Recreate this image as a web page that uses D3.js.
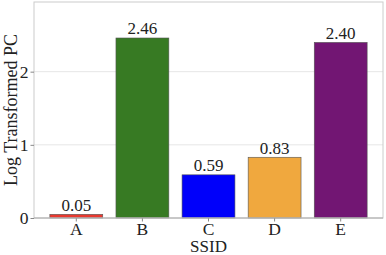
<!DOCTYPE html>
<html><head><meta charset="utf-8">
<script src="https://cdn.jsdelivr.net/npm/d3@7"></script>
<style>body{margin:0;background:#fff}svg{display:block}text{font-family:'Liberation Serif','Times New Roman',serif}</style>
</head><body>
<script>
const categories = ["A","B","C","D","E"];
const values = [0.05, 2.46, 0.59, 0.83, 2.40];
const labels = ["0.05","2.46","0.59","0.83","2.40"];
const colors = ["#e8392f","#377a23","#0000fa","#f0a83e","#721673"];
const yTicks = [0,1,2];

const W=386,H=255;
const m={l:34,r:3,t:2,b:37};
const svg=d3.select("body").append("svg").attr("width",W).attr("height",H);
const x=d3.scaleBand().domain(categories).range([m.l,W-m.r]).paddingInner(0.2).paddingOuter(0.24);
const y=d3.scaleLinear().domain([0,2.46*1.2]).range([H-m.b,m.t]);
const font="'Liberation Serif','Times New Roman',serif";

// grid
svg.append("g").selectAll("line").data(yTicks.filter(d=>d>0)).join("line")
 .attr("x1",m.l).attr("x2",W-m.r).attr("y1",d=>y(d)).attr("y2",d=>y(d))
 .attr("stroke","#e0e0e0").attr("stroke-width",0.8);

// bars
svg.append("g").selectAll("rect").data(values).join("rect")
 .attr("x",(d,i)=>x(categories[i])).attr("width",x.bandwidth())
 .attr("y",d=>y(d)).attr("height",d=>y(0)-y(d))
 .attr("fill",(d,i)=>colors[i]).attr("stroke","#555").attr("stroke-width",0.6);

// value labels
svg.append("g").selectAll("text").data(values).join("text")
 .attr("x",(d,i)=>x(categories[i])+x.bandwidth()/2).attr("y",d=>y(d)-3.7)
 .attr("text-anchor","middle").style("font-family",font).attr("font-size",17).attr("fill","#222")
 .text((d,i)=>labels[i]);

// spines
svg.append("rect").attr("x",m.l).attr("y",m.t).attr("width",W-m.r-m.l).attr("height",H-m.b-m.t)
 .attr("fill","none").attr("stroke","#cccccc").attr("stroke-width",1);

// axes
const xa=svg.append("g").attr("transform",`translate(0,${H-m.b})`).call(d3.axisBottom(x).tickSize(3.5).tickPadding(1));
const ya=svg.append("g").attr("transform",`translate(${m.l},0)`).call(d3.axisLeft(y).tickValues(yTicks).tickFormat(d3.format("d")).tickSize(3.5).tickPadding(2));
[xa,ya].forEach(a=>{
 a.attr("font-family",null).attr("font-size",null);
 a.selectAll(".tick line").attr("stroke","#888");
 a.selectAll(".tick text").style("font-family",font).attr("font-size",17.5).attr("fill","#222");
 a.select(".domain").remove();
});
svg.append("line").attr("x1",m.l).attr("x2",W-m.r).attr("y1",y(0)).attr("y2",y(0)).attr("stroke","#aaa");

svg.append("text").attr("x",(m.l+W-m.r)/2).attr("y",252).attr("text-anchor","middle")
 .style("font-family",font).attr("font-size",17).attr("fill","#222").text("SSID");
svg.append("text").attr("transform",`translate(17,${(m.t+H-m.b)/2}) rotate(-90)`).attr("text-anchor","middle")
 .style("font-family",font).attr("font-size",18).attr("fill","#222").text("Log Transformed PC");
</script>
</body></html>
